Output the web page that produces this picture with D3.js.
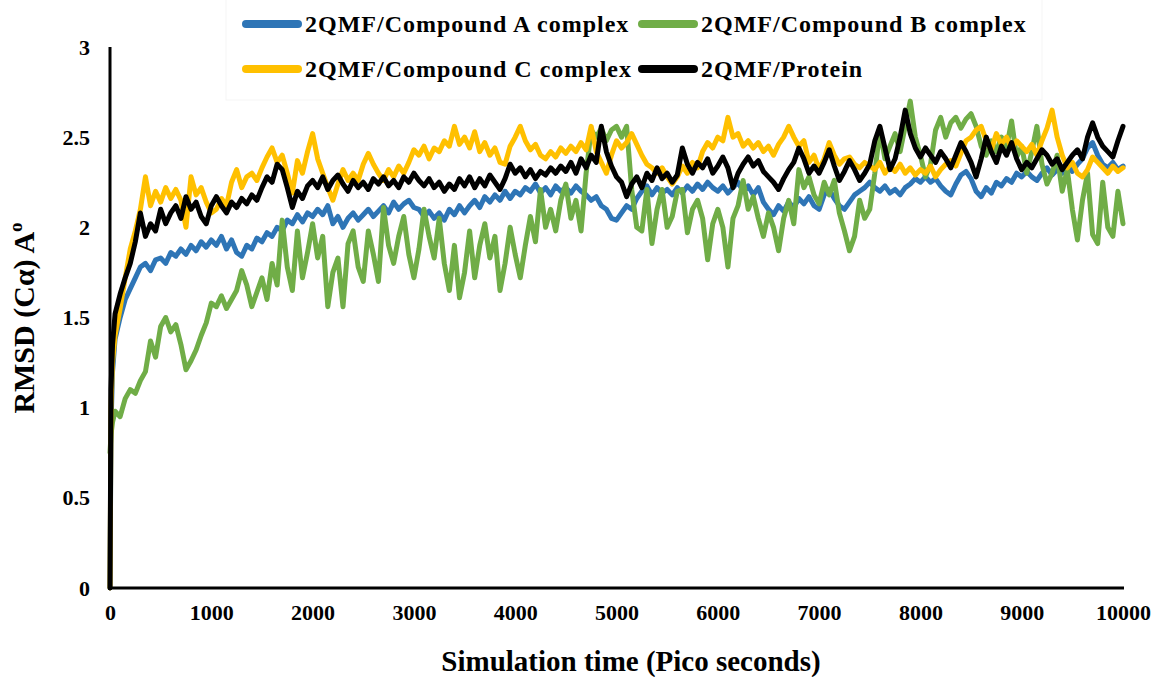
<!DOCTYPE html>
<html>
<head>
<meta charset="utf-8">
<script src="https://cdn.jsdelivr.net/npm/d3@7"></script>
<style>
  html, body { margin: 0; padding: 0; background: #fff; }
  svg { display: block; }
  text { font-family: "Liberation Serif", "Times New Roman", serif; font-weight: bold; fill: #000; }
</style>
</head>
<body>
<svg id="chart" width="1156" height="677"></svg>
<script>
// ---- data ----
const timePs = [0, 10, 25].concat(d3.range(50, 10001, 50));

const seriesNames = ["2QMF/Compound A complex", "2QMF/Compound B complex", "2QMF/Compound C complex", "2QMF/Protein"];

const compoundA = [0, 0.9, 1.2,
  1.38, 1.5, 1.6, 1.66, 1.72, 1.78, 1.8, 1.76, 1.82, 1.83,
  1.80, 1.86, 1.84, 1.88, 1.85, 1.9, 1.87, 1.92, 1.89, 1.93,
  1.9, 1.95, 1.88, 1.93, 1.86, 1.84, 1.9, 1.88, 1.94, 1.92,
  1.97, 1.95, 2.0, 1.98, 2.04, 2.02, 2.07, 2.03, 2.08, 2.06,
  2.1, 2.07, 2.12, 2.02, 2.06, 2.0, 2.05, 2.08, 2.04, 2.07,
  2.1, 2.06, 2.09, 2.12, 2.08, 2.14, 2.1, 2.13, 2.15, 2.11,
  2.1, 2.06, 2.09, 2.05, 2.08, 2.04, 2.1, 2.07, 2.12, 2.08,
  2.12, 2.15, 2.11, 2.17, 2.14, 2.18, 2.15, 2.2, 2.16, 2.2,
  2.18, 2.22, 2.2, 2.24, 2.19, 2.22, 2.18, 2.23, 2.2, 2.22,
  2.19, 2.23, 2.2, 2.18, 2.15, 2.17, 2.12, 2.1, 2.05, 2.04,
  2.08, 2.12, 2.1, 2.16, 2.2, 2.23, 2.18, 2.22, 2.19, 2.21,
  2.18, 2.22, 2.19, 2.23, 2.2, 2.24, 2.21, 2.25, 2.22, 2.2,
  2.23, 2.19, 2.22, 2.25, 2.2, 2.23, 2.18, 2.22, 2.14, 2.1,
  2.07, 2.12, 2.09, 2.14, 2.11, 2.16, 2.13, 2.17, 2.12, 2.1,
  2.18, 2.21, 2.16, 2.12, 2.1, 2.14, 2.18, 2.2, 2.22, 2.25,
  2.22, 2.2, 2.23, 2.19, 2.21, 2.18, 2.22, 2.24, 2.27, 2.25,
  2.28, 2.25, 2.27, 2.23, 2.2, 2.18, 2.24, 2.29, 2.31, 2.27,
  2.2, 2.17, 2.22, 2.19, 2.25, 2.23, 2.27, 2.25, 2.3, 2.28,
  2.31, 2.28, 2.26, 2.3, 2.33, 2.29, 2.32, 2.3, 2.34, 2.31,
  2.35, 2.38, 2.44, 2.47, 2.4, 2.35, 2.33, 2.36, 2.32, 2.34];

const compoundB = [0.75, 0.85, 0.92,
  0.98, 0.95, 1.05, 1.1, 1.08, 1.15, 1.2, 1.37, 1.28, 1.45,
  1.5, 1.42, 1.46, 1.35, 1.21, 1.26, 1.32, 1.4, 1.47, 1.58,
  1.56, 1.62, 1.55, 1.6, 1.65, 1.76, 1.68, 1.56, 1.64, 1.72,
  1.6, 1.8, 1.68, 2.04, 1.78, 1.65, 1.98, 1.72, 1.86, 2.02,
  1.83, 1.95, 1.56, 1.75, 1.83, 1.56, 1.91, 1.98, 1.78, 1.7,
  1.98, 1.85, 1.7, 2.11, 1.9, 1.8, 1.95, 2.06, 1.85, 1.72,
  1.88, 2.1, 1.95, 1.83, 2.05, 1.8, 1.65, 1.9, 1.61, 1.75,
  1.98, 1.72, 1.9, 2.02, 1.83, 1.95, 1.65, 1.8, 2.0, 1.85,
  1.72, 1.9, 2.06, 1.92, 2.21, 2.0, 2.1, 1.98, 2.15, 2.24,
  2.05, 2.15, 1.98, 2.3, 2.54, 2.5, 2.55, 2.48, 2.54, 2.56,
  2.5, 2.56, 2.21, 2.0, 1.98, 2.21, 1.91, 2.1, 2.21, 2.0,
  2.06, 2.2, 2.21, 1.97, 2.1, 2.15, 2.05, 1.82, 2.02, 2.1,
  2.0, 1.78, 2.05, 2.12, 2.26, 2.1, 2.17, 2.05, 1.95, 2.08,
  2.0, 1.87, 2.05, 2.15, 2.02, 2.32, 2.22, 2.28, 2.18, 2.13,
  2.25, 2.18, 2.26, 2.08, 1.98, 1.87, 1.95, 2.15, 2.05, 2.1,
  2.3, 2.54, 2.38, 2.45, 2.52, 2.42, 2.56, 2.7, 2.5, 2.4,
  2.28, 2.35, 2.54, 2.61, 2.5, 2.58, 2.61, 2.55, 2.6, 2.63,
  2.56, 2.45, 2.4, 2.48, 2.42, 2.5, 2.44, 2.59, 2.39, 2.45,
  2.3, 2.42, 2.56, 2.35, 2.24, 2.3, 2.4, 2.2, 2.32, 2.1,
  1.93, 2.15, 2.3, 1.96, 1.91, 2.25, 2.0, 1.95, 2.2, 2.02];

const compoundC = [0, 1.0, 1.25,
  1.4, 1.55, 1.72, 1.88, 1.98, 2.1, 2.28, 2.12, 2.2, 2.14,
  2.22, 2.16, 2.21, 2.15, 2.0, 2.28, 2.18, 2.22, 2.14, 2.08,
  2.1, 2.16, 2.12, 2.25, 2.32, 2.22, 2.28, 2.3, 2.26, 2.33,
  2.39, 2.44, 2.36, 2.4, 2.3, 2.19, 2.37, 2.3, 2.42, 2.52,
  2.38, 2.3, 2.22, 2.15, 2.24, 2.32, 2.26, 2.3, 2.26, 2.35,
  2.41, 2.35, 2.3, 2.26, 2.32, 2.28, 2.34, 2.3, 2.36, 2.43,
  2.4, 2.45, 2.38, 2.44, 2.42, 2.48, 2.45, 2.56, 2.46, 2.5,
  2.44, 2.53, 2.42, 2.47, 2.4, 2.44, 2.36, 2.35, 2.45, 2.5,
  2.56, 2.48, 2.43, 2.46, 2.4, 2.38, 2.42, 2.39, 2.44, 2.41,
  2.45, 2.42, 2.47, 2.43, 2.56, 2.42, 2.36, 2.3, 2.4, 2.48,
  2.44, 2.47, 2.52, 2.46, 2.4, 2.35, 2.33, 2.3, 2.33, 2.28,
  2.24, 2.28, 2.34, 2.3, 2.36, 2.33, 2.42, 2.47, 2.44, 2.5,
  2.48, 2.61, 2.5, 2.52, 2.45, 2.48, 2.44, 2.47, 2.42, 2.45,
  2.4, 2.46, 2.5, 2.56, 2.5, 2.45, 2.48, 2.36, 2.4, 2.32,
  2.38, 2.47, 2.4, 2.35, 2.38, 2.39, 2.35, 2.33, 2.36, 2.34,
  2.32, 2.36, 2.3, 2.34, 2.31, 2.35, 2.3, 2.33, 2.29, 2.32,
  2.3, 2.34, 2.28, 2.32, 2.35, 2.37, 2.34, 2.41, 2.48, 2.5,
  2.54, 2.56, 2.48, 2.43, 2.52, 2.46, 2.5, 2.44, 2.48, 2.45,
  2.42, 2.46, 2.4, 2.48, 2.55, 2.65, 2.5, 2.4, 2.33, 2.36,
  2.3, 2.28, 2.32, 2.39, 2.36, 2.33, 2.3, 2.34, 2.31, 2.33];

const protein = [0, 1.1, 1.35,
  1.52, 1.63, 1.72, 1.8, 1.92, 2.08, 1.95, 2.02, 1.98, 2.1,
  2.02, 2.08, 2.12, 2.05, 2.17, 2.1, 2.14, 2.06, 2.02, 2.12,
  2.17, 2.12, 2.08, 2.14, 2.11, 2.16, 2.13, 2.18, 2.15, 2.22,
  2.28, 2.25, 2.35, 2.32, 2.22, 2.11, 2.2, 2.16, 2.23, 2.26,
  2.22, 2.28, 2.21, 2.26, 2.29, 2.24, 2.2, 2.26, 2.22, 2.25,
  2.21, 2.27, 2.24, 2.28, 2.23, 2.26, 2.22, 2.28, 2.25, 2.3,
  2.26, 2.23, 2.27, 2.22, 2.25, 2.2, 2.24, 2.21, 2.27, 2.23,
  2.28, 2.22, 2.27, 2.23, 2.29, 2.25, 2.21, 2.27, 2.35, 2.3,
  2.33, 2.28, 2.32, 2.27, 2.31, 2.29, 2.33, 2.3, 2.34, 2.31,
  2.36, 2.3, 2.38, 2.33, 2.4, 2.36, 2.56, 2.42, 2.34, 2.28,
  2.25, 2.17, 2.24, 2.28, 2.22, 2.3, 2.26, 2.33, 2.27, 2.3,
  2.25, 2.29, 2.44, 2.35, 2.3, 2.36, 2.33, 2.38, 2.3, 2.34,
  2.39, 2.33, 2.22, 2.3, 2.35, 2.39, 2.34, 2.37, 2.31, 2.28,
  2.25, 2.21, 2.27, 2.32, 2.36, 2.44, 2.38, 2.3, 2.34, 2.3,
  2.36, 2.43, 2.34, 2.26, 2.31, 2.37, 2.32, 2.26, 2.3, 2.35,
  2.48, 2.56, 2.44, 2.32, 2.38, 2.5, 2.65, 2.52, 2.44, 2.39,
  2.44, 2.4, 2.36, 2.42, 2.38, 2.33, 2.4, 2.47, 2.42, 2.36,
  2.28, 2.38, 2.5, 2.42, 2.36, 2.45, 2.4, 2.47, 2.38, 2.32,
  2.36, 2.33, 2.38, 2.43, 2.4, 2.35, 2.38, 2.32, 2.36, 2.4,
  2.43, 2.38, 2.5, 2.58, 2.5, 2.45, 2.42, 2.39, 2.48, 2.56];

const xTicks = [0, 1000, 2000, 3000, 4000, 5000, 6000, 7000, 8000, 9000, 10000];
const yTicks = [0, 0.5, 1, 1.5, 2, 2.5, 3];

// ---- drawing ----
const colors = ["#2E75B6", "#70AD47", "#FFC000", "#000000"];
const allSeries = [compoundA, compoundB, compoundC, protein];

const svg = d3.select("#chart");
const x = d3.scaleLinear().domain([0, 10000]).range([110, 1123]);
const y = d3.scaleLinear().domain([0, 3]).range([588, 47]);

// legend frame (very faint)
svg.append("rect").attr("x", 226).attr("y", -2).attr("width", 816).attr("height", 102)
  .attr("fill", "none").attr("stroke", "#f5f5f5").attr("stroke-width", 1);

const line = d3.line().x((d, i) => x(timePs[i])).y(d => y(d));

allSeries.forEach((s, k) => {
  svg.append("path").datum(s)
    .attr("d", line)
    .attr("fill", "none")
    .attr("stroke", colors[k])
    .attr("stroke-width", 5)
    .attr("stroke-linejoin", "round")
    .attr("stroke-linecap", "round");
});

// axes
const xAxis = svg.append("g").attr("transform", "translate(0,588)")
  .call(d3.axisBottom(x).tickValues(xTicks).tickSize(0).tickPadding(16).tickFormat(d3.format("d")));
xAxis.select(".domain").attr("stroke", "#000").attr("stroke-width", 3).attr("d", "M108,0H1124");
xAxis.selectAll("text").style("font-size", "22px").style("font-family", "Liberation Serif").style("font-weight", "bold");

const yAxis = svg.append("g").attr("transform", "translate(110,0)")
  .call(d3.axisLeft(y).tickValues(yTicks).tickSize(0).tickPadding(20).tickFormat(d => d));
yAxis.select(".domain").attr("stroke", "#000").attr("stroke-width", 3).attr("d", "M0,47V589.5");
yAxis.selectAll("text").style("font-size", "22px").style("font-family", "Liberation Serif").style("font-weight", "bold");

// axis titles
svg.append("text").attr("x", 631).attr("y", 671).attr("text-anchor", "middle")
  .style("font-size", "29px").text("Simulation time (Pico seconds)");

const yt = svg.append("text").attr("transform", "translate(34,318) rotate(-90)")
  .attr("text-anchor", "middle").style("font-size", "30px");
yt.append("tspan").text("RMSD (C\u03B1) A");
yt.append("tspan").attr("dy", -12).style("font-size", "19px").text("o");

// legend
const legendPos = [[242, 24], [638, 24], [242, 69], [638, 69]];
seriesNames.forEach((name, k) => {
  const [lx, ly] = legendPos[k];
  svg.append("line").attr("x1", lx + 4).attr("x2", lx + 56).attr("y1", ly).attr("y2", ly)
    .attr("stroke", colors[k]).attr("stroke-width", 8).attr("stroke-linecap", "round");
  svg.append("text").attr("x", lx + 63).attr("y", ly + 8)
    .style("font-size", "24px").style("letter-spacing", "1px").text(name);
});
</script>
</body>
</html>
